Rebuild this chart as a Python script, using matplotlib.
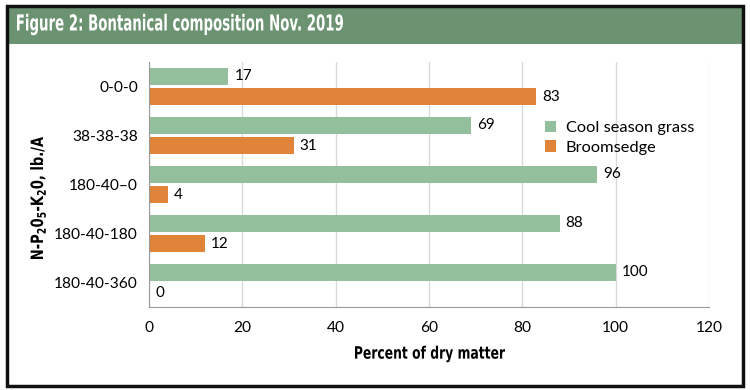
import matplotlib
matplotlib.use("Agg")
import matplotlib.pyplot as plt
from matplotlib.patches import Rectangle, PathPatch
from matplotlib.textpath import TextPath
from matplotlib.font_manager import FontProperties
from matplotlib.transforms import Affine2D
import numpy as np

# data
rates = ["0-0-0", "38-38-38", "180-40\u20130", "180-40-180", "180-40-360"]
cool_grass = [17, 69, 96, 88, 100]
broomsedge = [83, 31, 4, 12, 0]
x_ticks = [0, 20, 40, 60, 80, 100, 120]

green = "#93bf9c"
orange = "#e0843a"
band = "#6b9271"

plt.rcParams["font.family"] = ["Lato", "DejaVu Sans"]
plt.rcParams["mathtext.default"] = "bf"

W, H = 750, 390
fig = plt.figure(figsize=(7.5, 3.9), dpi=100)


# narrow bold text (no condensed font installed, so squeeze the glyph outlines)
def narrow_text(s, x, y, size_px, width_px, rotation=0, left=False, color="black"):
    tp = TextPath((0, 0), s, size=size_px, prop=FontProperties(family="DejaVu Sans", weight="bold"))
    ext = tp.get_extents()
    dx = -ext.x0 if left else -(ext.x0 + ext.width / 2)
    tr = (Affine2D().translate(dx, -(ext.y0 + ext.y1) / 2)
          .scale(width_px / ext.width, 1).rotate_deg(rotation).translate(x, H - y))
    fig.add_artist(PathPatch(tp, transform=tr, facecolor=color, edgecolor="none", lw=0, zorder=6))


# outer frame and title band
fig.patches.append(Rectangle((8/W, 1 - 44/H), 734/W, 37/H, transform=fig.transFigure,
                             facecolor=band, edgecolor="none", zorder=1))
fig.patches.append(Rectangle((7/W, 1 - 386/H), 736/W, 380/H, transform=fig.transFigure,
                             facecolor="none", edgecolor="#111111", linewidth=2.5, zorder=5))
narrow_text("Figure 2: Bontanical composition Nov. 2019", 17, 24.5, 22, 326, left=True, color="white")

ax = fig.add_axes([149/W, 1 - 307/H, 560/W, 245/H])
ax.set_zorder(2)
y = np.arange(len(rates))
h = 0.35
ax.barh(y - 0.21, cool_grass, height=h, color=green, label="Cool season grass", zorder=2)
ax.barh(y + 0.21, broomsedge, height=h, color=orange, label="Broomsedge", zorder=2)

for i in range(len(rates)):
    ax.text(cool_grass[i] + 1.3, y[i] - 0.21, str(cool_grass[i]), va="center", ha="left", fontsize=11)
    ax.text(broomsedge[i] + 1.3, y[i] + 0.21, str(broomsedge[i]), va="center", ha="left", fontsize=11)

ax.set_xlim(0, 120)
ax.set_ylim(4.5, -0.5)
ax.set_xticks(x_ticks)
ax.set_yticks(y)
ax.set_yticklabels(rates)
ax.tick_params(axis="both", length=0, labelsize=11.2, pad=8)
ax.tick_params(axis="x", pad=10)
ax.grid(axis="x", color="#dadada", linewidth=1, zorder=0)
ax.set_axisbelow(True)
for s in ["top", "right"]:
    ax.spines[s].set_visible(False)
ax.spines["left"].set_color("#999999")
ax.spines["bottom"].set_color("#999999")

# axis titles
narrow_text("Percent of dry matter", 430, 354, 17, 150)
narrow_text("N-P$_2$0$_5$-K$_2$0, lb./A", 38, 198, 17, 122, rotation=90)

ax.legend(loc="upper left", bbox_to_anchor=(0.68, 0.82), frameon=False, fontsize=11.8,
          handlelength=0.7, handleheight=0.7, handletextpad=0.6, labelspacing=0.3)

fig.savefig("out.png", dpi=100)
